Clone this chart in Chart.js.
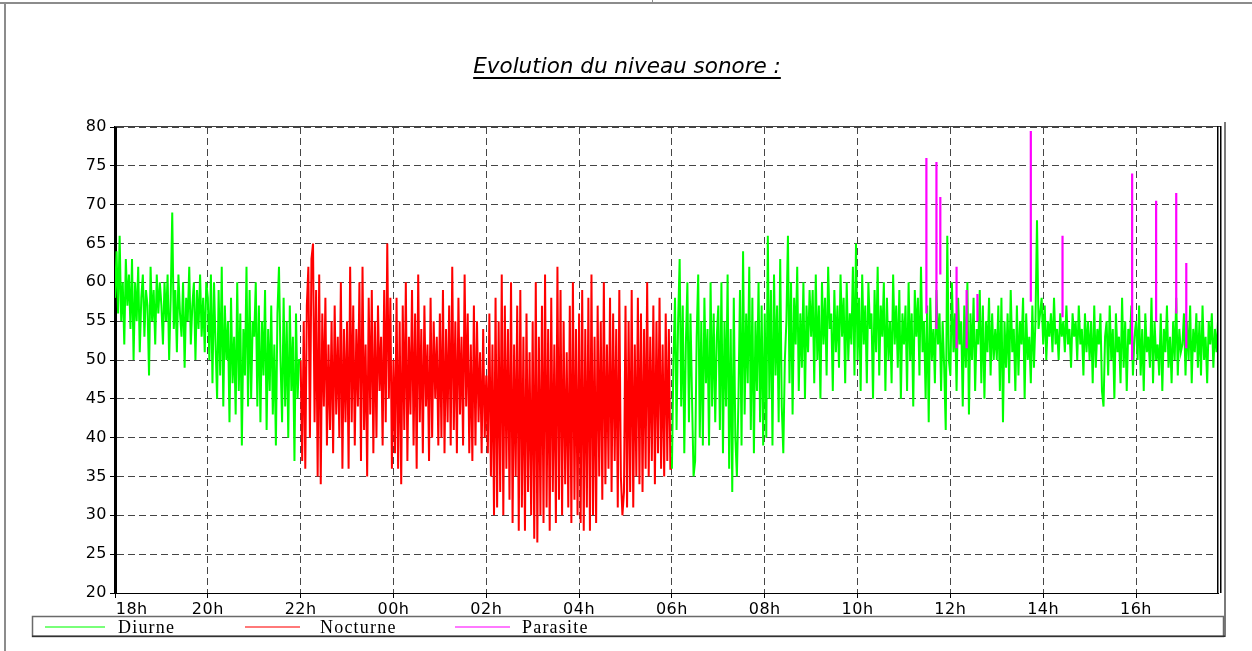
<!DOCTYPE html>
<html lang="fr">
<head>
<meta charset="utf-8">
<title>Evolution du niveau sonore</title>
<script src="https://cdn.jsdelivr.net/npm/chart.js@4.4.1/dist/chart.umd.min.js"></script>
<style>
  html, body { margin: 0; padding: 0; background: #fff; overflow: hidden; }
  #page { position: relative; width: 1252px; height: 651px; }
  #graphe { position: absolute; left: 0; top: 0; }
  #titre {
    position: absolute; left: 2px; top: 53px; width: 1250px; text-align: center;
    font: italic 21.5px 'DejaVu Sans', sans-serif; color: #000;
    text-decoration: underline; text-underline-offset: 4px;
  }
</style>
</head>
<body>
<div id="page">
  <canvas id="graphe" width="1252" height="651"></canvas>
  <div id="titre">Evolution du niveau sonore :</div>
</div>
<script>
// une valeur toutes les 2 minutes, l'axe commence à 18h
const PAS_MIN = 2;
const DEBUT_H = 18;

const heuresAxe = [18, 20, 22, 0, 2, 4, 6, 8, 10, 12, 14, 16];
const finAxe = '17:46';

// dB(A) 18h00 -> 22h00 (diurne)
const diurneSoir = [
  58,64,56,66,55,60,52,63,57,61,54,63,50,60,55,62,51,58,61,53,59,57,48,62,55,59,52,61,56,60,
  57,52,60,55,61,50,58,69,54,59,51,61,56,53,60,49,58,55,62,52,57,60,50,59,54,61,53,58,51,60,
  58,50,61,47,60,52,45,59,48,62,44,57,50,55,42,58,47,53,43,60,46,56,39,54,48,62,44,59,45,55,
  53,60,44,57,42,55,48,59,41,54,46,57,43,52,39,56,62,50,42,58,44,55,40,57,46,53,37,56,45,50,
  50
];

// dB(A) 22h00 -> 06h00 (nocturne)
const nocturne = [
  50,37,55,36,57,62,40,63,65,42,59,35,61,34,56,44,58,39,52,41,55,38,57,43,53,40,60,36,54,42,
  55,36,62,42,57,39,54,44,60,37,62,41,52,35,58,43,59,38,55,40,57,46,53,39,59,42,65,45,58,36,
  50,38,58,36,55,34,57,41,60,37,53,43,59,39,56,36,61,42,54,38,57,44,52,37,58,40,55,45,53,39,
  56,40,59,38,54,42,57,39,62,41,55,38,58,43,53,39,61,44,56,38,52,37,57,39,55,42,51,38,54,40,
  48,38,56,35,52,30,58,31,55,33,61,30,57,36,54,32,60,29,52,35,57,28,59,31,53,28,56,33,51,30,
  55,27,60,26.5,53,30,57,29,61,31,54,28,58,33,52,29,62,32,59,30,55,34,51,31,57,29,60,32,54,30,
  56,29,59,28,54,31,58,28,61,30,53,29,57,35,55,32,60,34,52,36,58,33,56,37,54,31,59,35,30,33,
  57,31,55,33,59,31,52,35,58,34,56,33,54,36,60,35,53,37,57,34,55,38,58,36,52,35,56,37,54,36,
  36
];

// dB(A) 06h00 -> 17h46 (diurne)
const diurneJour = [
  36,50,58,41,55,63,44,57,38,52,60,42,56,45,35,37,53,61,40,55,39,58,47,54,39,60,44,56,42,53,
  57,41,60,38,55,44,61,36,54,33,58,40,35,45,59,39,64,43,56,47,62,41,58,38,55,46,60,42,57,39,
  56,40,66,45,59,39,61,48,57,42,63,44,38,50,55,66,47,60,43,58,52,62,46,56,49,60,45,57,51,59,
  53,59,47,61,50,57,45,60,52,58,48,62,54,56,46,59,51,57,49,61,53,58,47,60,50,56,52,62,48,65,
  50,58,46,61,52,57,47,60,54,56,45,59,51,62,48,57,53,60,46,58,50,55,47,61,52,57,49,59,45,56,
  52,57,46,60,50,56,44,59,53,58,48,62,51,55,45,57,42,58,50,54,47,59,52,56,46,55,49,41,66,50,
  48,60,51,56,46,58,52,55,44,57,49,60,43,56,50,58,46,54,52,59,47,57,45,55,51,58,48,56,50,54,
  50,57,46,58,42,55,49,56,47,59,51,54,46,57,48,55,52,58,45,56,50,53,47,57,49,55,68,54,56,58,
  52,57,50,55,53,56,51,58,52,54,50,56,53,55,51,57,52,54,49,56,53,55,50,57,52,54,48,56,51,55,
  50,55,47,57,49,54,52,56,46,44,53,55,48,57,50,54,45,56,51,53,47,58,49,55,46,54,52,57,48,53,
  55,50,57,48,54,46,56,51,53,49,58,47,55,50,52,48,56,46,54,51,57,49,53,47,55,50,58,48,54,51,
  52,56,48,55,50,57,47,54,51,56,49,55,48,57,50,53,47,55,52,56,49,54,51,55
];

// bruits parasites : heure, niveau de départ, crête
const parasiteHeures = ['11:29', '11:42', '11:47', '12:08', '12:21', '12:35', '13:44', '14:25', '15:55', '16:26', '16:52', '17:05'];
const parasiteBas = [56, 54, 61, 51.5, 51.5, 55, 57.5, 55.5, 50, 55, 56, 51.5];
const parasiteHaut = [76, 75.5, 71, 62, 59, 58.5, 79.5, 66, 74, 70.5, 71.5, 62.5];

const couleurs = { diurne: '#00ff00', nocturne: '#ff0000', parasite: '#ff00ff' };

// heure "hh:mm" -> heures écoulées depuis 18h
function versAxe(hhmm) {
  const [h, m] = hhmm.split(':').map(Number);
  return ((h - DEBUT_H + 24) % 24) + m / 60;
}

function serie(valeurs, debut) {
  const x0 = versAxe(debut);
  return valeurs.map((v, i) => ({ x: x0 + i * PAS_MIN / 60, y: v }));
}

const donneesDiurne = [...serie(diurneSoir, '18:00'), { x: versAxe('02:00'), y: null }, ...serie(diurneJour, '06:00')];
const donneesNocturne = serie(nocturne, '22:00');
const donneesParasite = parasiteHeures.flatMap((h, i) => {
  const x = versAxe(h);
  return [{ x, y: parasiteBas[i] }, { x, y: parasiteHaut[i] }, { x, y: null }];
});

const policeAxe = { family: "'DejaVu Sans', sans-serif", size: 16 };
const ESPACE_LETTRES = '0.5px';

// cadre de la page, bord du graphe et légende encadrée
const cadre = {
  id: 'cadre',
  beforeUpdate(chart) { chart.ctx.letterSpacing = ESPACE_LETTRES; },
  beforeDraw(chart) {
    const ctx = chart.ctx;
    ctx.save();
    ctx.fillStyle = '#fff';
    ctx.fillRect(0, 0, chart.width, chart.height);
    ctx.fillStyle = '#8c8c8c';
    ctx.fillRect(0, 2, chart.width, 2);
    ctx.fillRect(652, 0, 1, 3);
    ctx.fillRect(4, 3, 2, chart.height - 3);
    ctx.restore();
    ctx.letterSpacing = ESPACE_LETTRES;
  },
  afterDraw(chart) {
    const ctx = chart.ctx;
    const a = chart.chartArea;
    ctx.save();
    ctx.letterSpacing = '0px';
    // bord haut et double trait à droite
    ctx.fillStyle = '#404040';
    ctx.fillRect(a.left, a.top - 1, a.right - a.left + 3, 1);
    ctx.fillStyle = '#000';
    ctx.fillRect(a.right - 1, a.top - 1, 1.5, a.bottom - a.top + 1);
    ctx.fillRect(a.right + 2, a.top - 1, 1.5, a.bottom - a.top + 1);
    ctx.fillStyle = '#7a7a7a';
    ctx.fillRect(1224, 122, 2, 515);
    // légende
    ctx.strokeStyle = '#6a6a6a';
    ctx.lineWidth = 1.5;
    ctx.strokeRect(32.5, 616.5, 1191, 20);
    ctx.fillStyle = '#303030';
    ctx.fillRect(32, 635.5, 1193, 1.5);
    const items = [
      { x1: 45, x2: 105, tx: 118 },
      { x1: 245, x2: 300, tx: 320 },
      { x1: 455, x2: 510, tx: 522 }
    ];
    ctx.font = "18px 'Liberation Serif', serif";
    ctx.letterSpacing = '1.2px';
    ctx.textBaseline = 'middle';
    chart.data.datasets.forEach((ds, i) => {
      const it = items[i];
      ctx.strokeStyle = ds.borderColor;
      ctx.globalAlpha = 0.7;
      ctx.lineWidth = 1.5;
      ctx.beginPath();
      ctx.moveTo(it.x1, 627);
      ctx.lineTo(it.x2, 627);
      ctx.stroke();
      ctx.globalAlpha = 1;
      ctx.fillStyle = '#000';
      ctx.fillText(ds.label, it.tx, 628);
    });
    ctx.restore();
  }
};

new Chart(document.getElementById('graphe'), {
  type: 'line',
  data: {
    datasets: [
      { label: 'Diurne', data: donneesDiurne, borderColor: couleurs.diurne, borderWidth: 2, order: 2 },
      { label: 'Nocturne', data: donneesNocturne, borderColor: couleurs.nocturne, borderWidth: 2, order: 2 },
      { label: 'Parasite', data: donneesParasite, borderColor: couleurs.parasite, borderWidth: 2.2, order: 1 }
    ]
  },
  options: {
    responsive: false,
    animation: false,
    devicePixelRatio: 1,
    spanGaps: false,
    elements: { point: { radius: 0 }, line: { tension: 0 } },
    layout: { padding: { left: 80, top: 127, right: 34, bottom: 36 } },
    plugins: { legend: { display: false }, tooltip: { enabled: false } },
    scales: {
      x: {
        type: 'linear',
        min: 0,
        max: versAxe(finAxe),
        afterBuildTicks: s => { s.ticks = heuresAxe.map(h => ({ value: versAxe(h + ':00') })); },
        afterFit: s => { s.height = 22; s.paddingLeft = 0; s.paddingRight = 0; },
        grid: { color: '#454545', tickColor: '#000', tickLength: 5 },
        border: { display: true, color: '#000', width: 1, dash: [7, 4] },
        ticks: {
          autoSkip: false,
          maxRotation: 0,
          padding: 2,
          color: '#000',
          font: policeAxe,
          callback: v => {
            const h = String((v + DEBUT_H) % 24).padStart(2, '0') + 'h';
            return v === 0 ? '      ' + h : h;
          }
        }
      },
      y: {
        min: 20,
        max: 80,
        afterFit: s => { s.width = 35; },
        grid: { color: '#454545', tickColor: '#000', tickLength: 5 },
        border: { display: true, color: '#000', width: 3, dash: [7, 4] },
        ticks: { stepSize: 5, padding: 3, color: '#000', font: policeAxe }
      }
    }
  },
  plugins: [cadre]
});
</script>
</body>
</html>
